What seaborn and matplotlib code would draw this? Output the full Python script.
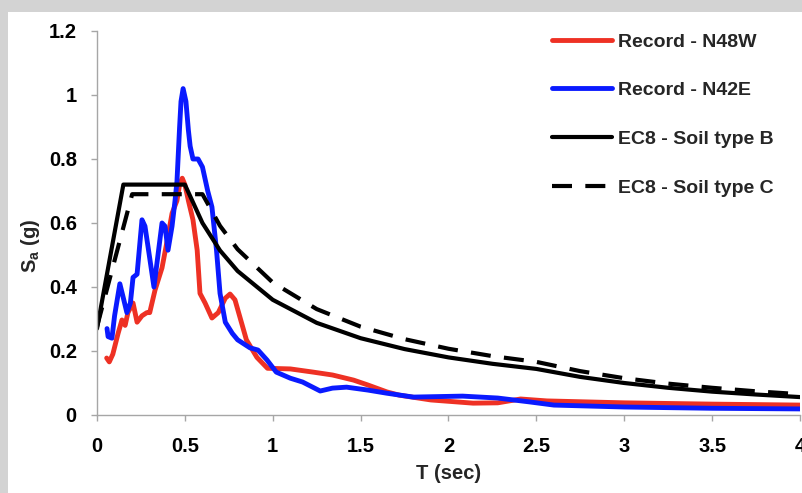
import matplotlib
matplotlib.use("Agg")
import matplotlib.pyplot as plt
from matplotlib.patches import Rectangle
import seaborn as sns

# spectral acceleration
t_n48w = [0.055, 0.07, 0.09, 0.12, 0.142, 0.16, 0.176, 0.205, 0.228, 0.256, 0.284, 0.30, 0.33, 0.37,
          0.40, 0.427, 0.455, 0.47, 0.485, 0.50, 0.52, 0.546, 0.57, 0.586, 0.615, 0.654, 0.69, 0.73,
          0.757, 0.785, 0.85, 0.91, 0.97, 1.1, 1.23, 1.34, 1.46, 1.54, 1.65, 1.72, 1.9, 2.14, 2.28,
          2.41, 2.56, 3.0, 3.5, 4.0]
sa_n48w = [0.178, 0.166, 0.19, 0.255, 0.297, 0.28, 0.32, 0.35, 0.29, 0.31, 0.32, 0.32, 0.39, 0.46,
           0.547, 0.63, 0.67, 0.72, 0.74, 0.72, 0.67, 0.61, 0.515, 0.38, 0.35, 0.303, 0.32, 0.365,
           0.378, 0.36, 0.235, 0.18, 0.146, 0.144, 0.134, 0.125, 0.109, 0.094, 0.072, 0.062, 0.047,
           0.037, 0.038, 0.05, 0.044, 0.038, 0.034, 0.031]

t_n42e = [0.057, 0.063, 0.085, 0.10, 0.13, 0.148, 0.17, 0.19, 0.205, 0.228, 0.256, 0.273, 0.30, 0.324,
          0.347, 0.37, 0.387, 0.404, 0.427, 0.444, 0.455, 0.47, 0.478, 0.49, 0.506, 0.52, 0.53, 0.546,
          0.575, 0.60, 0.63, 0.654, 0.68, 0.70, 0.73, 0.77, 0.80, 0.87, 0.916, 0.967, 1.02, 1.1, 1.17,
          1.27, 1.34, 1.42, 1.54, 1.65, 1.8, 2.08, 2.28, 2.46, 2.6, 3.0, 3.5, 4.0]
sa_n42e = [0.27, 0.245, 0.24, 0.31, 0.41, 0.37, 0.32, 0.35, 0.43, 0.44, 0.61, 0.59, 0.49, 0.40,
           0.50, 0.60, 0.59, 0.515, 0.59, 0.67, 0.73, 0.90, 0.98, 1.02, 0.98, 0.89, 0.84, 0.80,
           0.80, 0.775, 0.70, 0.65, 0.515, 0.38, 0.29, 0.255, 0.235, 0.21, 0.203, 0.172, 0.134, 0.115,
           0.103, 0.075, 0.084, 0.087, 0.078, 0.068, 0.056, 0.059, 0.053, 0.041, 0.031, 0.025, 0.021, 0.019]

t_ec8b = [0, 0.15, 0.5, 0.6, 0.7, 0.8, 1.0, 1.25, 1.5, 1.75, 2.0, 2.25, 2.5, 2.75, 3.0, 3.25, 3.5, 3.75, 4.0]
sa_ec8b = [0.27, 0.72, 0.72, 0.60, 0.514, 0.45, 0.36, 0.288, 0.24, 0.206, 0.18, 0.16, 0.144, 0.119,
           0.10, 0.085, 0.073, 0.064, 0.056]

t_ec8c = [0, 0.2, 0.6, 0.7, 0.8, 1.0, 1.25, 1.5, 1.75, 2.0, 2.25, 2.5, 2.75, 3.0, 3.25, 3.5, 3.75, 4.0]
sa_ec8c = [0.276, 0.69, 0.69, 0.591, 0.518, 0.414, 0.331, 0.276, 0.237, 0.207, 0.184, 0.166, 0.137,
           0.115, 0.098, 0.085, 0.074, 0.065]

sns.set_style("ticks")
plt.rcParams['font.family'] = ['Liberation Sans', 'DejaVu Sans']
plt.rcParams['font.weight'] = 'bold'
plt.rcParams['mathtext.fontset'] = 'custom'
plt.rcParams['mathtext.rm'] = 'Liberation Sans:bold'

fig = plt.figure(figsize=(8.03, 4.93), dpi=100, facecolor="#d3d3d3")
fig.patches.append(Rectangle((8 / 803, 0), 1, (493 - 12) / 493, transform=fig.transFigure,
                             facecolor="white", edgecolor="none", zorder=-10))
ax = fig.add_axes([97 / 803, 1 - 415 / 493, 703 / 803, 384 / 493])
ax.set_facecolor("none")

sns.lineplot(x=t_n48w, y=sa_n48w, color="#ee3124", lw=3.5, label="Record - N48W", ax=ax)
sns.lineplot(x=t_n42e, y=sa_n42e, color="#0a1aff", lw=3.5, label="Record - N42E", ax=ax)
sns.lineplot(x=t_ec8b, y=sa_ec8b, color="black", lw=3, label="EC8 - Soil type B", ax=ax)
sns.lineplot(x=t_ec8c, y=sa_ec8c, color="black", lw=3, label="EC8 - Soil type C", ax=ax)
ax.lines[-1].set_dashes((4.8, 3.2))

ax.set_xlim(0, 4)
ax.set_ylim(0, 1.2)
ax.set_xticks([0, 0.5, 1, 1.5, 2, 2.5, 3, 3.5, 4])
ax.set_xticklabels(["0", "0.5", "1", "1.5", "2", "2.5", "3", "3.5", "4"])
ax.set_yticks([0, 0.2, 0.4, 0.6, 0.8, 1, 1.2])
ax.set_yticklabels(["0", "0.2", "0.4", "0.6", "0.8", "1", "1.2"])
sns.despine(ax=ax)
for s in ["left", "bottom"]:
    ax.spines[s].set_color("#a6a6a6")
    ax.spines[s].set_linewidth(1.0)
ax.tick_params(axis="both", colors="#a6a6a6", length=4.5, width=1.0, labelsize=14.5,
               labelcolor="black")
ax.tick_params(axis="y", pad=10)
ax.tick_params(axis="x", pad=11)

ax.set_xlabel("T (sec)", fontsize=14.5, fontweight="bold", labelpad=6)
ax.set_ylabel(r"S$_\mathrm{a}$ (g)", fontsize=14.5, fontweight="bold")
ax.yaxis.set_label_coords(-0.078, 0.44)

ax.legend(loc="upper left", bbox_to_anchor=(0.647, 0.995), frameon=False, fontsize=14,
          handlelength=3.1, handletextpad=0.3, labelspacing=1.6, borderpad=0, borderaxespad=0)

plt.savefig("out.png", dpi=100, facecolor=fig.get_facecolor())
